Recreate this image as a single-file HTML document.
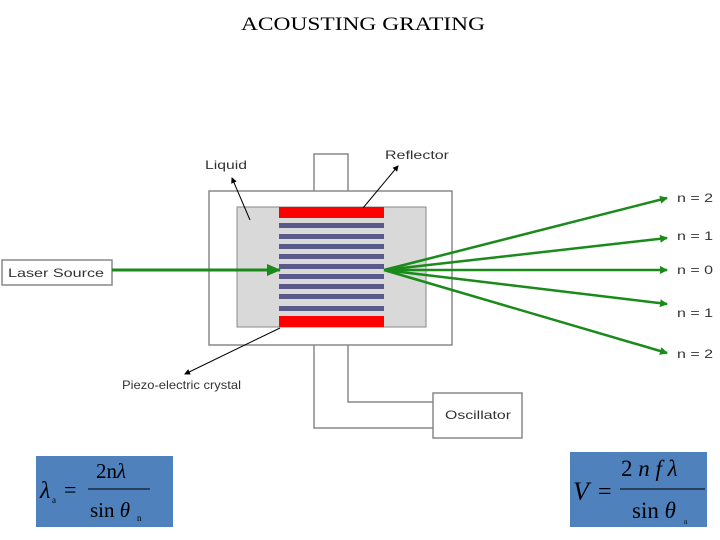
<!DOCTYPE html><html><head><style>body{margin:0;background:#fff}svg{display:block}</style></head><body>
<svg width="720" height="540" xmlns="http://www.w3.org/2000/svg" font-family="Liberation Sans, sans-serif">
<defs><marker id="g" markerWidth="8" markerHeight="8" refX="7" refY="4" orient="auto" markerUnits="userSpaceOnUse" viewBox="0 0 8 8"><path d="M0,0L8,4L0,8z" fill="#1a8a1a"/></marker>
<marker id="k" markerWidth="6" markerHeight="6" refX="5" refY="3" orient="auto" markerUnits="userSpaceOnUse"><path d="M0,0L6,3L0,6z" fill="#000"/></marker>
<marker id="G" markerWidth="14" markerHeight="12" refX="13" refY="6" orient="auto" markerUnits="userSpaceOnUse"><path d="M0,0L14,6L0,12z" fill="#1a8a1a"/></marker></defs>
<text x="241" y="30" textLength="244" lengthAdjust="spacingAndGlyphs" font-family="Liberation Serif, serif" font-size="19">ACOUSTING GRATING</text>
<g fill="none" stroke="#888" stroke-width="1.5">
<rect x="314" y="154" width="34" height="38" fill="#fff"/>
<rect x="209" y="191" width="243" height="154" fill="#fff"/>
<polyline points="314,345 314,428 433,428"/><polyline points="348,345 348,402 433,402"/>
<rect x="433" y="393" width="89" height="45" fill="#fff"/>
<rect x="2" y="260" width="110" height="25" fill="#fff"/>
</g>
<rect x="237" y="207" width="189" height="120" fill="#d9d9d9" stroke="#888"/>
<rect x="279" y="207" width="105" height="11" fill="#f00"/><rect x="279" y="316" width="105" height="11" fill="#f00"/>
<g fill="#5a5a8a"><rect x="279" y="223" width="105" height="5"/><rect x="279" y="234" width="105" height="5"/><rect x="279" y="244" width="105" height="5"/><rect x="279" y="254" width="105" height="5"/><rect x="279" y="264" width="105" height="5"/><rect x="279" y="274" width="105" height="5"/><rect x="279" y="284" width="105" height="5"/><rect x="279" y="294" width="105" height="5"/><rect x="279" y="306" width="105" height="5"/></g>
<g stroke="#1a8a1a" stroke-width="3"><line x1="112" y1="270" x2="280" y2="270" marker-end="url(#G)"/>
<g stroke-width="2.5"><line x1="384" y1="270" x2="667" y2="198" marker-end="url(#g)"/><line x1="384" y1="270" x2="667" y2="238" marker-end="url(#g)"/><line x1="384" y1="270" x2="667" y2="270" marker-end="url(#g)"/><line x1="384" y1="270" x2="667" y2="304" marker-end="url(#g)"/><line x1="384" y1="270" x2="667" y2="353" marker-end="url(#g)"/></g></g>
<g stroke="#000" stroke-width="1"><line x1="250" y1="220" x2="232" y2="178" marker-end="url(#k)"/><line x1="363" y1="208" x2="398" y2="166" marker-end="url(#k)"/><line x1="280" y1="328" x2="185" y2="374" marker-end="url(#k)"/></g>
<g font-size="12" fill="#333">
<text x="205" y="169" textLength="42" lengthAdjust="spacingAndGlyphs">Liquid</text><text x="385" y="159" textLength="64" lengthAdjust="spacingAndGlyphs">Reflector</text><text x="122" y="389" textLength="119" lengthAdjust="spacingAndGlyphs">Piezo-electric crystal</text>
<text x="8" y="277" textLength="96" lengthAdjust="spacingAndGlyphs">Laser Source</text><text x="445" y="419" textLength="66" lengthAdjust="spacingAndGlyphs">Oscillator</text>
<text x="677" y="202" textLength="36" lengthAdjust="spacingAndGlyphs">n = 2</text><text x="677" y="240" textLength="36" lengthAdjust="spacingAndGlyphs">n = 1</text><text x="677" y="274" textLength="36" lengthAdjust="spacingAndGlyphs">n = 0</text><text x="677" y="317" textLength="36" lengthAdjust="spacingAndGlyphs">n = 1</text><text x="677" y="358" textLength="36" lengthAdjust="spacingAndGlyphs">n = 2</text></g>
<rect x="36" y="456" width="137" height="71" fill="#4f81bd"/>
<rect x="570" y="452" width="137" height="75" fill="#4f81bd"/>
<g font-family="Liberation Serif, serif" fill="#000">
<text x="40" y="498" font-size="24" font-style="italic">λ</text><text x="52" y="503" font-size="9">a</text><text x="64" y="497" font-size="22">=</text>
<text x="96" y="478" font-size="21">2n<tspan font-style="italic">λ</tspan></text><line x1="88" y1="489" x2="150" y2="489" stroke="#000"/>
<text x="90" y="517" font-size="21">sin <tspan font-style="italic">θ</tspan></text><text x="137" y="521" font-size="9">n</text>
<text x="573" y="500" font-size="26" font-style="italic">V</text><text x="598" y="499" font-size="24">=</text>
<text x="621" y="476" font-size="23">2 <tspan font-style="italic">n f λ</tspan></text><line x1="620" y1="489" x2="705" y2="489" stroke="#000"/>
<text x="632" y="518" font-size="23">sin <tspan font-style="italic">θ</tspan></text><text x="684" y="524" font-size="7">n</text></g>
</svg></body></html>
